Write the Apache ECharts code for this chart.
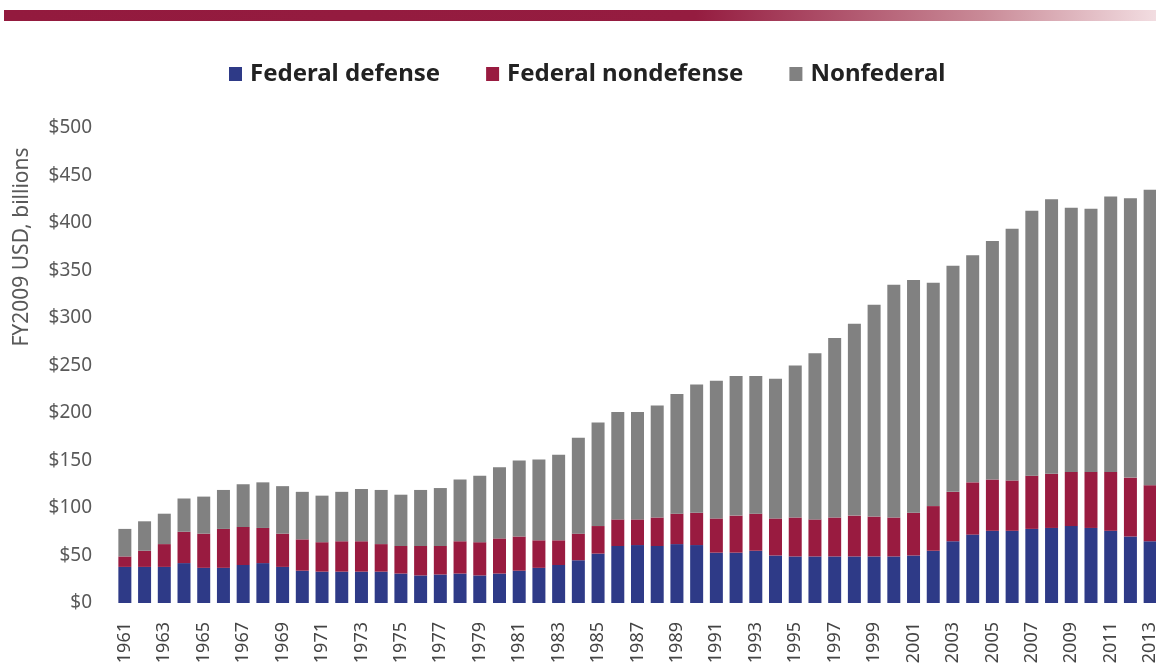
<!DOCTYPE html>
<html>
<head>
<meta charset="utf-8">
<script src="https://cdn.jsdelivr.net/npm/echarts@6/dist/echarts.min.js"></script>
<style>
  html, body { margin: 0; padding: 0; background: #fff; }
  #chart { width: 1156px; height: 669px; }
</style>
</head>
<body>
<div id="chart"></div>
<script>
// years on the x axis
const years = []
for (let y = 1961; y <= 2013; y++) years.push(String(y))

// FY2009 USD, billions (stack segments)
const federalDefense = [
  38, 38, 38, 42, 37, 37, 40, 42, 38, 34,
  33, 33, 33, 33, 31, 29, 30, 31, 29, 31,
  34, 37, 40, 45, 52, 60, 61, 60, 62, 61,
  53, 53, 55, 50, 49, 49, 49, 49, 49, 49,
  50, 55, 65, 72, 76, 76, 78, 79, 81, 79,
  76, 70, 65
]
const federalNondefense = [
  11, 17, 24, 33, 36, 41, 40, 37, 35, 33,
  31, 32, 32, 29, 29, 31, 30, 34, 35, 37,
  36, 29, 26, 28, 29, 28, 27, 30, 32, 34,
  36, 39, 39, 39, 41, 39, 41, 43, 42, 41,
  45, 47, 52, 55, 54, 53, 56, 57, 57, 59,
  62, 62, 59
]
const nonfederal = [
  29, 31, 32, 35, 39, 41, 45, 48, 50, 50,
  49, 52, 55, 57, 54, 59, 61, 65, 70, 75,
  80, 85, 90, 101, 109, 113, 113, 118, 126, 135,
  145, 147, 145, 147, 160, 175, 189, 202, 223, 245,
  245, 235, 238, 239, 251, 265, 279, 289, 278, 277,
  290, 294, 311
]

const yTicks = [0, 50, 100, 150, 200, 250, 300, 350, 400, 450, 500]

const chart = echarts.init(document.getElementById('chart'))

function bar(name, data, color) {
  return {
    name: name,
    type: 'bar',
    stack: 'total',
    data: data,
    barWidth: 13,
    itemStyle: { color: color },
    emphasis: { disabled: true }
  }
}

chart.setOption({
  animation: false,
  textStyle: { fontFamily: 'Noto Sans' },
  graphic: [
    {
      type: 'rect',
      shape: { x: 4, y: 10, width: 1152, height: 11 },
      style: {
        fill: new echarts.graphic.LinearGradient(0, 0, 1, 0, [
          { offset: 0, color: '#931a3e' },
          { offset: 0.6, color: '#951c40' },
          { offset: 0.85, color: '#c98a97' },
          { offset: 1, color: '#f2dde1' }
        ])
      }
    },
    {
      type: 'text',
      x: 22,
      y: 247,
      rotation: Math.PI / 2,
      style: {
        text: 'FY2009 USD, billions',
        fill: '#595959',
        font: '21px "Noto Sans"',
        align: 'center',
        verticalAlign: 'middle'
      }
    }
  ],
  legend: {
    top: 57,
    left: 224,
    itemWidth: 13,
    itemHeight: 14,
    itemGap: 46,
    icon: 'rect',
    textStyle: {
      fontSize: 24,
      fontWeight: 'bold',
      color: '#222',
      fontFamily: 'Noto Sans',
      padding: [0, 0, 0, 3]
    },
    data: ['Federal defense', 'Federal nondefense', 'Nonfederal']
  },
  grid: {
    left: 115, right: -4, top: 128, bottom: 66,
    containLabel: false,
    outerBoundsMode: 'none'
  },
  xAxis: {
    type: 'category',
    data: years,
    axisLine: { show: false },
    axisTick: { show: false },
    axisLabel: {
      interval: 1,
      rotate: 90,
      margin: 19,
      fontSize: 18,
      color: '#444'
    }
  },
  yAxis: {
    type: 'value',
    min: yTicks[0],
    max: yTicks[yTicks.length - 1],
    interval: 50,
    splitLine: { show: false },
    axisLine: { show: false },
    axisTick: { show: false },
    axisLabel: {
      margin: 23,
      fontSize: 19,
      color: '#595959',
      formatter: v => '$' + v
    }
  },
  series: [
    bar('Federal defense', federalDefense, '#2e3a87'),
    bar('Federal nondefense', federalNondefense, '#991b40'),
    bar('Nonfederal', nonfederal, '#818181')
  ]
})
</script>
</body>
</html>
